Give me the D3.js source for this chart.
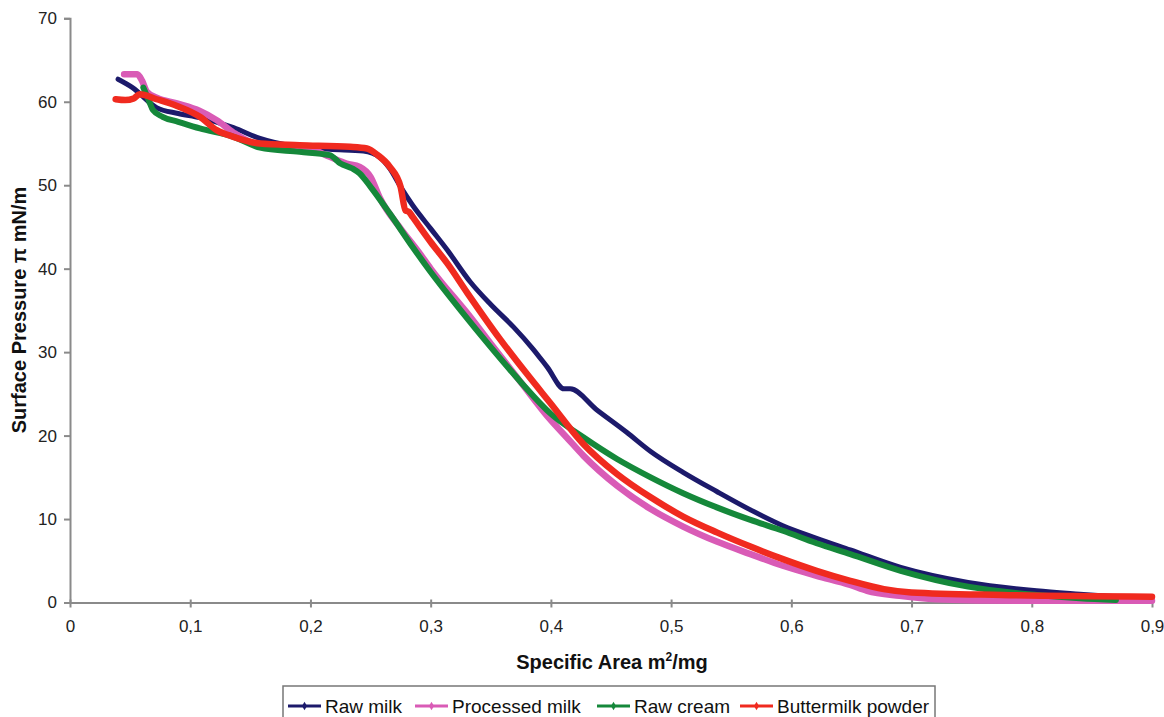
<!DOCTYPE html>
<html>
<head>
<meta charset="utf-8">
<script src="https://cdn.jsdelivr.net/npm/d3@7"></script>
<style>
  html, body { margin: 0; padding: 0; background: #fff; }
  svg { display: block; }
  text { font-family: "Liberation Sans", Arial, sans-serif; }
</style>
</head>
<body>
<svg id="chart" width="1164" height="717"></svg>
<script>
// Surface pressure isotherms: specific area (m²/mg) vs surface pressure (mN/m)
const seriesNames = ["Raw milk", "Processed milk", "Raw cream", "Buttermilk powder"];
const seriesColors = ["#1c1a6b", "#d95bb6", "#15883a", "#f02a1f"];

const rawMilk = [
  [0.040, 62.7], [0.052, 61.7], [0.072, 59.3], [0.090, 58.6], [0.108, 58.1],
  [0.136, 56.9], [0.158, 55.6], [0.185, 54.7], [0.216, 54.3], [0.244, 54.1],
  [0.258, 53.3], [0.266, 52.0], [0.275, 49.8], [0.285, 47.6], [0.300, 44.8],
  [0.314, 42.2], [0.333, 38.4], [0.350, 35.7], [0.369, 33.0], [0.385, 30.4],
  [0.397, 28.2], [0.411, 25.6], [0.416, 25.6], [0.438, 23.1], [0.463, 20.4],
  [0.483, 18.1], [0.510, 15.6], [0.538, 13.3], [0.566, 11.1], [0.593, 9.2],
  [0.621, 7.7], [0.649, 6.3], [0.691, 4.2], [0.747, 2.4], [0.804, 1.4],
  [0.840, 1.0], [0.870, 0.7]
];

const processedMilk = [
  [0.045, 63.3], [0.056, 63.3], [0.060, 62.5], [0.064, 61.2], [0.072, 60.5],
  [0.089, 59.8], [0.108, 58.9], [0.122, 57.8], [0.136, 56.3], [0.150, 55.2],
  [0.175, 54.6], [0.200, 54.3], [0.216, 53.4], [0.230, 52.6], [0.241, 52.2],
  [0.250, 51.0], [0.258, 48.4], [0.275, 44.8], [0.290, 42.0], [0.300, 40.0],
  [0.333, 34.2], [0.350, 31.0], [0.375, 26.4], [0.399, 22.0], [0.413, 19.8],
  [0.427, 17.6], [0.455, 14.0], [0.483, 11.2], [0.510, 9.1], [0.538, 7.3],
  [0.566, 5.8], [0.593, 4.4], [0.621, 3.2], [0.649, 2.1], [0.663, 1.4],
  [0.690, 0.8], [0.720, 0.4], [0.800, 0.2], [0.900, 0.2]
];

const rawCream = [
  [0.061, 61.7], [0.066, 60.0], [0.069, 59.0], [0.077, 58.2], [0.090, 57.6],
  [0.108, 56.8], [0.136, 55.8], [0.158, 54.5], [0.191, 54.0], [0.216, 53.6],
  [0.225, 52.6], [0.235, 52.0], [0.241, 51.4], [0.250, 49.8], [0.266, 46.6],
  [0.285, 42.6], [0.300, 39.6], [0.325, 35.0], [0.350, 30.6], [0.375, 26.4],
  [0.400, 22.6], [0.427, 19.8], [0.455, 17.2], [0.483, 15.0], [0.510, 13.1],
  [0.538, 11.4], [0.566, 9.9], [0.593, 8.6], [0.621, 7.1], [0.649, 5.8],
  [0.691, 3.8], [0.747, 1.9], [0.804, 0.9], [0.840, 0.5], [0.870, 0.3]
];

const buttermilkPowder = [
  [0.038, 60.3], [0.046, 60.2], [0.053, 60.4], [0.058, 60.9],
  [0.072, 60.3], [0.089, 59.5], [0.108, 58.2], [0.122, 56.6], [0.136, 55.8],
  [0.158, 55.0], [0.191, 54.8], [0.233, 54.6], [0.247, 54.4], [0.256, 53.6],
  [0.266, 52.2], [0.275, 49.8], [0.279, 47.0], [0.282, 46.8], [0.285, 46.2],
  [0.300, 43.2], [0.314, 40.6], [0.330, 37.2], [0.358, 31.5], [0.380, 27.4],
  [0.399, 24.0], [0.427, 19.0], [0.455, 15.4], [0.483, 12.6], [0.510, 10.3],
  [0.538, 8.4], [0.566, 6.7], [0.593, 5.2], [0.621, 3.8], [0.649, 2.6],
  [0.677, 1.6], [0.700, 1.2], [0.775, 0.9], [0.900, 0.7]
];

const xTicks = [0, 0.1, 0.2, 0.3, 0.4, 0.5, 0.6, 0.7, 0.8, 0.9];
const yTicks = [0, 10, 20, 30, 40, 50, 60, 70];

const allSeries = [rawMilk, processedMilk, rawCream, buttermilkPowder];
const lineWidths = [5, 6.5, 6, 6.5];

const svg = d3.select("#chart");

const x = d3.scaleLinear().domain([0, 0.9]).range([70, 1152]);
const y = d3.scaleLinear().domain([0, 70]).range([602.5, 18.3]);

const axisColor = "#8a8a8a";
const fmt = d => d === 0 ? "0" : d3.format(".1f")(d).replace(".", ",");

// y axis
const gy = svg.append("g").attr("transform", `translate(${x(0)},0)`)
  .call(d3.axisLeft(y).tickValues(yTicks).tickSize(6).tickPadding(7).tickFormat(d3.format("d")));
gy.select(".domain").attr("stroke", axisColor).attr("stroke-width", 2);
gy.selectAll(".tick line").attr("stroke", axisColor).attr("stroke-width", 2);
gy.selectAll(".tick text").attr("font-size", 17).attr("fill", "#222");

// x axis
const gx = svg.append("g").attr("transform", `translate(0,${y(0)})`)
  .call(d3.axisBottom(x).tickValues(xTicks).tickSizeInner(5).tickSizeOuter(0).tickPadding(12).tickFormat(fmt));
gx.select(".domain").attr("stroke", axisColor).attr("stroke-width", 2);
gx.selectAll(".tick line").attr("stroke", axisColor).attr("stroke-width", 2).attr("y1", -3);
gx.selectAll(".tick text").attr("font-size", 17).attr("fill", "#222");

// axis titles
svg.append("text")
  .attr("x", 612).attr("y", 669)
  .attr("text-anchor", "middle")
  .attr("font-size", 20).attr("font-weight", "bold").attr("fill", "#111")
  .html('Specific Area m<tspan dy="-8" font-size="12">2</tspan><tspan dy="8">/mg</tspan>');

svg.append("text")
  .attr("transform", "translate(26,310) rotate(-90)")
  .attr("text-anchor", "middle")
  .attr("font-size", 20).attr("font-weight", "bold").attr("fill", "#111")
  .text("Surface Pressure π mN/m");

// curves
const line = d3.line()
  .x(d => x(d[0]))
  .y(d => y(d[1]))
  .curve(d3.curveMonotoneX);

svg.append("g").selectAll("path")
  .data(allSeries)
  .join("path")
  .attr("d", line)
  .attr("fill", "none")
  .attr("stroke", (d, i) => seriesColors[i])
  .attr("stroke-width", (d, i) => lineWidths[i])
  .attr("stroke-linejoin", "round")
  .attr("stroke-linecap", "round");

// legend
const legend = svg.append("g");
legend.append("rect")
  .attr("x", 283).attr("y", 686).attr("width", 652).attr("height", 40)
  .attr("fill", "#fff").attr("stroke", "#777").attr("stroke-width", 1.5);

const symStarts = [288, 415, 597, 740];
seriesNames.forEach((name, i) => {
  const g = legend.append("g").attr("transform", `translate(${symStarts[i]},706)`);
  g.append("line").attr("x1", 0).attr("x2", 33).attr("y1", 0).attr("y2", 0)
    .attr("stroke", seriesColors[i]).attr("stroke-width", 3);
  g.append("path").attr("d", d3.symbol(d3.symbolDiamond, 22)())
    .attr("transform", "translate(16.5,0)")
    .attr("fill", seriesColors[i]);
  g.append("text").attr("x", 37).attr("y", 7)
    .attr("font-size", 19).attr("fill", "#111")
    .text(name);
});
</script>
</body>
</html>
